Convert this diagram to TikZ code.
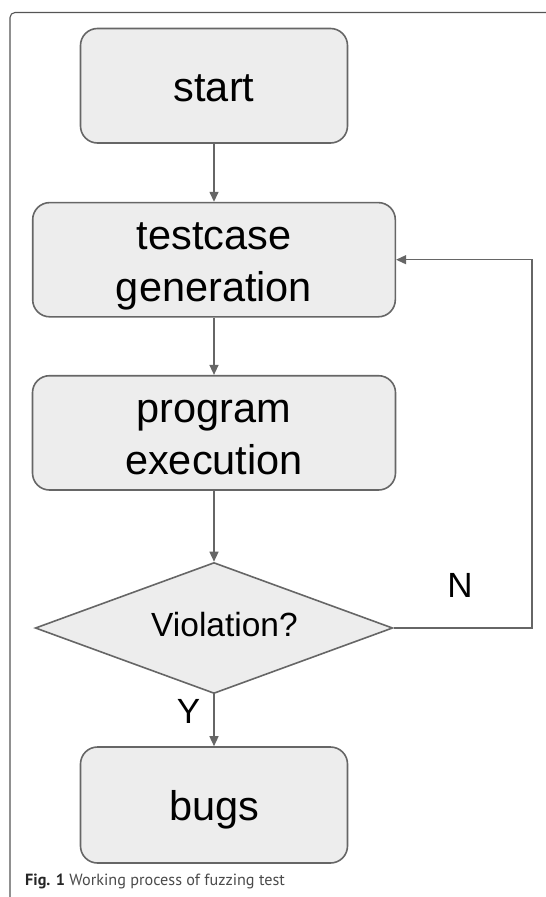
\documentclass[tikz,border=0pt]{standalone}
\usepackage{fontspec}
\setmainfont{Liberation Sans}
\newfontfamily\capfont{PT Sans}
\usetikzlibrary{arrows.meta,shapes.geometric}
\definecolor{boxfill}{HTML}{EDEDED}
\definecolor{edgec}{HTML}{666666}
\definecolor{framec}{HTML}{555555}
\definecolor{captxt}{HTML}{4A4A4A}
\begin{document}
\begin{tikzpicture}[x=1pt,y=-1pt,
  flowbox/.style={draw=edgec, fill=boxfill, line width=1.6pt, rounded corners=17pt,
    inner sep=0pt, font=\fontsize{41.5}{52}\selectfont, text height=31pt, text depth=0pt},
  twoline/.style={flowbox, text height=83pt},
  decision/.style={diamond, aspect=2.73, draw=edgec, fill=boxfill, line width=1.6pt, inner sep=0pt,
    minimum width=357.5pt, minimum height=131pt, font=\fontsize{33.5}{40}\selectfont,
    text height=24pt, text depth=8pt},
  flow/.style={draw=edgec, line width=1.4pt, -{Triangle[length=10pt,width=9pt]}},
  lbl/.style={font=\fontsize{35}{42}\selectfont, inner sep=0pt}]
\useasboundingbox (0,0) rectangle (546,897);
\draw[framec, line width=1.1pt, rounded corners=5pt] (10,897) -- (10,12.5) -- (546,12.5);

\node[flowbox, minimum width=267pt, minimum height=114.5pt] (start) at (214,85.75) {start};
\node[twoline, minimum width=362.6pt, minimum height=114.2pt] (gen) at (214,259.7)
  {\parbox[b]{340pt}{\centering testcase\\generation}};
\node[twoline, minimum width=363pt, minimum height=114.3pt] (exec) at (214,432.85)
  {\parbox[b]{340pt}{\centering program\\execution}};
\node[decision] (viol) at (214,628) {\hspace*{21pt}Violation?};
\node[flowbox, minimum width=267pt, minimum height=116pt] (bugs) at (214,805) {bugs};

\coordinate (loopc) at (532,628);
\draw[flow] (start) -- (gen);
\draw[flow] (gen) -- (exec);
\draw[flow] (exec) -- (viol);
\draw[flow] (viol) -- (bugs);
\draw[flow, line width=1.2pt] (viol.east) -- (loopc) |- (gen.east);

\node[lbl] (n) at (460,585.5) {N};
\node[lbl] (y) at (188.5,711.5) {Y};

\node[anchor=base west, inner sep=0pt, text=captxt] (cap) at (25,885)
  {\capfont\fontsize{16.2}{19}\selectfont\textbf{\color{black!85}Fig. 1} Working process of fuzzing test};
\end{tikzpicture}
\end{document}
